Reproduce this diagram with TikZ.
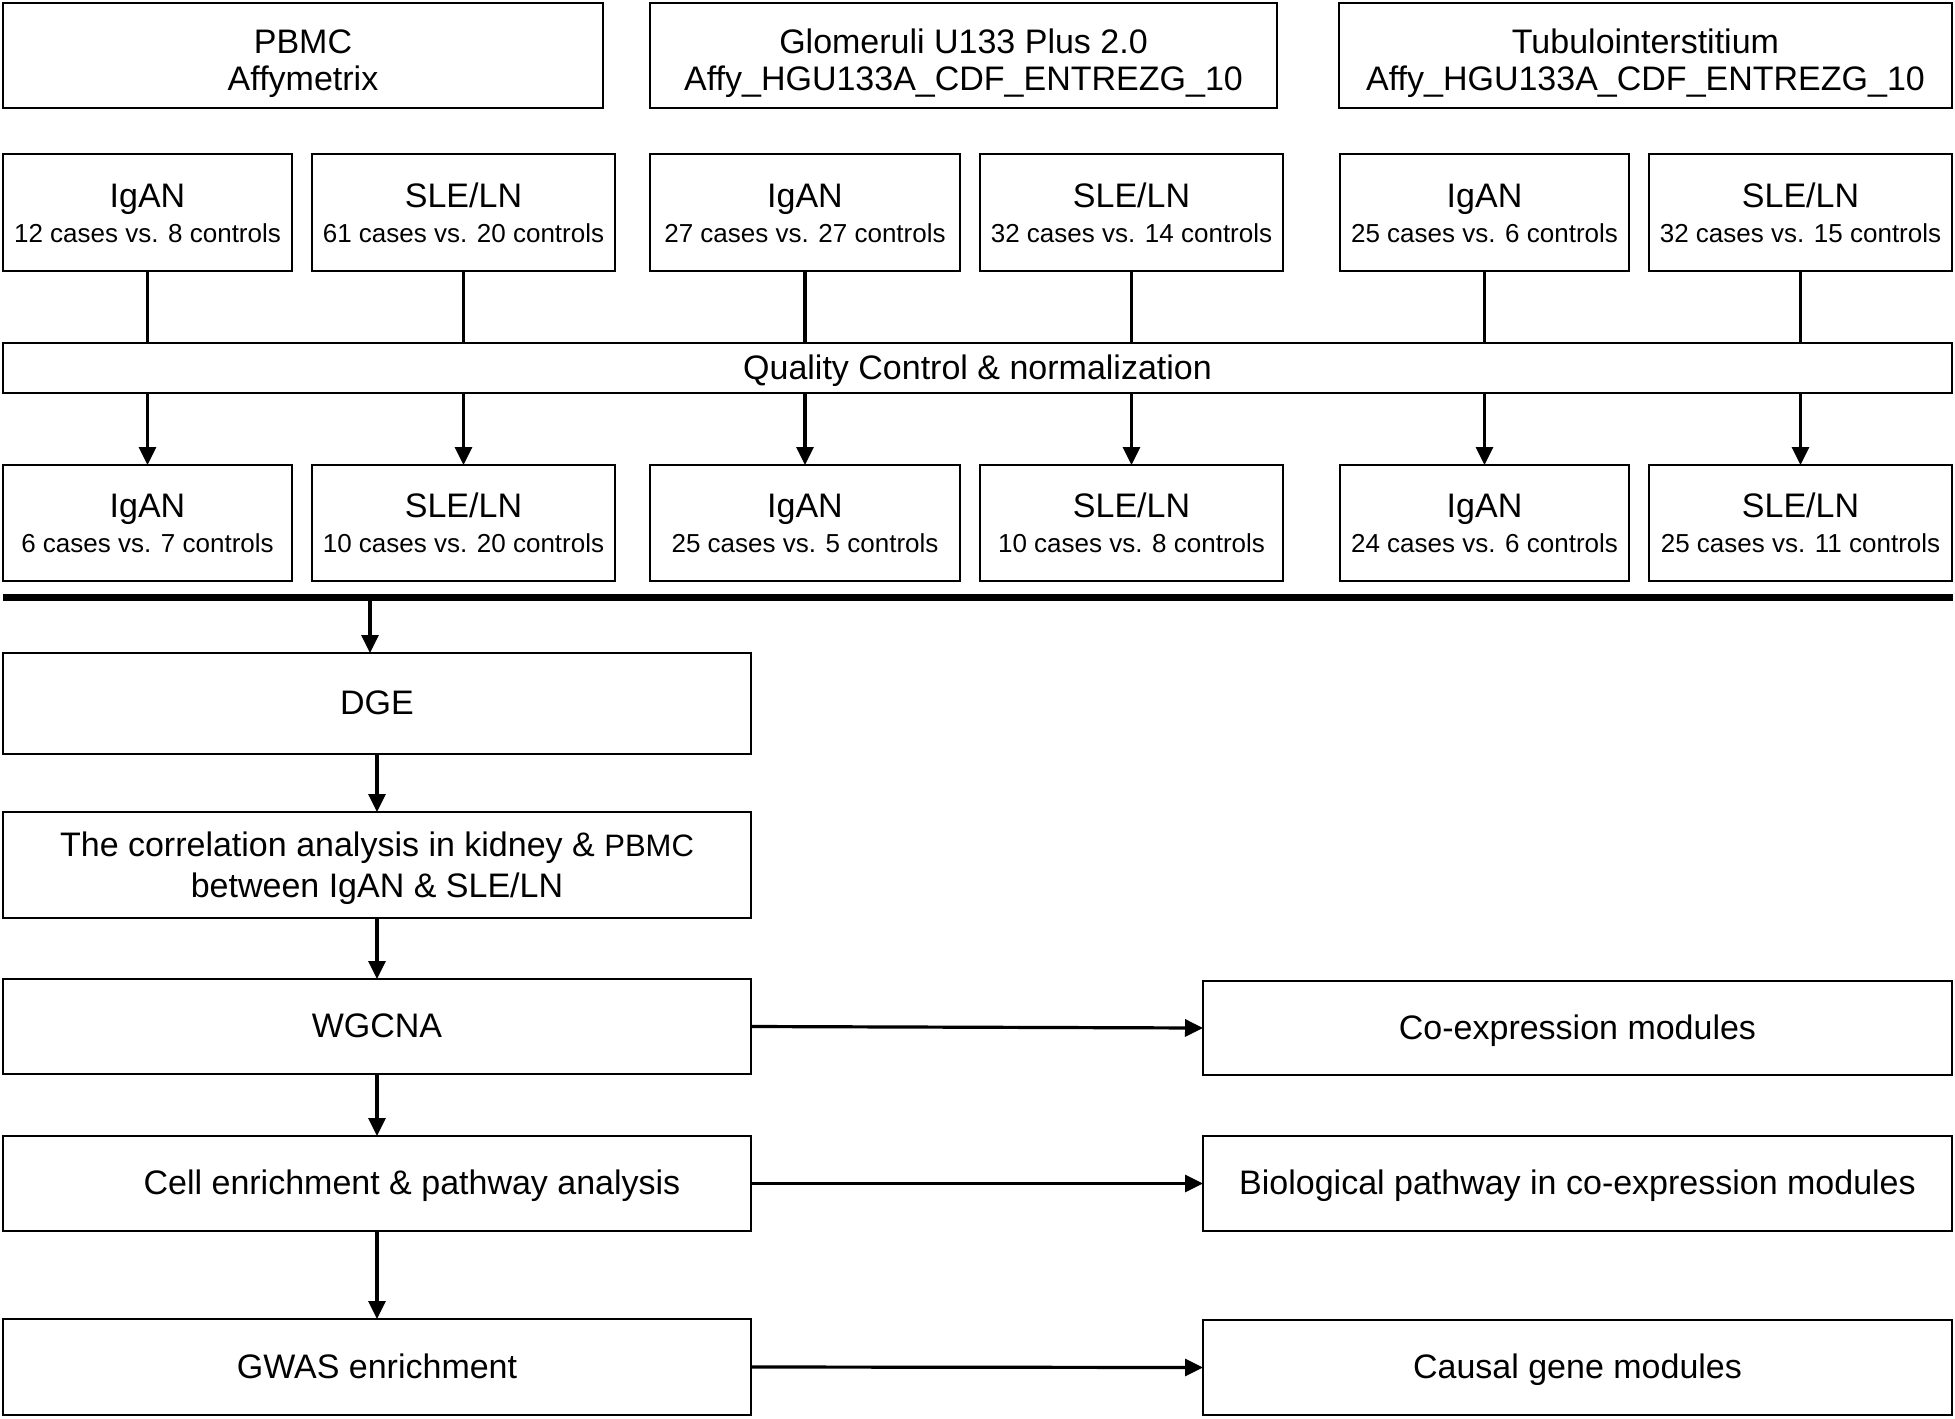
\documentclass[tikz,border=0pt]{standalone}
\usepackage{fontspec}
\setmainfont{Liberation Sans}
\usetikzlibrary{arrows.meta,positioning}

\tikzset{
  box/.style={draw, line width=1.2pt, inner sep=0pt, outer sep=0pt, align=center,
    text height=12pt, text depth=1pt, font=\fontsize{17}{18.7}\selectfont},
  platform/.style={box, minimum height=52.5pt, text height=36.2pt},
  cohort/.style={box, minimum height=58.5pt, text height=30.5pt},
  flow/.style={line width=1.6pt, -{Triangle[length=9pt,width=8.5pt]}},
  link/.style={line width=1.6pt},
}
\newcommand{\grp}[2]{#1\\[-1.2pt]{\fontsize{13}{13}\selectfont #2}}

\begin{document}
\begin{tikzpicture}[x=0.5pt,y=-0.5pt]
		\useasboundingbox (0,0) rectangle (1955,1419);
		
		% platforms
		\node[platform, minimum width=300pt] (pbmc) at (303,55.5) {PBMC\\Affymetrix};
		\node[platform, minimum width=313.5pt] (glom) at (963.5,55.5) {Glomeruli U133 Plus 2.0\\Affy\_HGU133A\_CDF\_ENTREZG\_10};
		\node[platform, minimum width=306.5pt] (tubu) at (1645.5,55.5) {Tubulointerstitium\\Affy\_HGU133A\_CDF\_ENTREZG\_10};
		
		% raw cohorts
		\node[cohort, minimum width=144.5pt] (rawpi) at (147.5,212.5) {\grp{IgAN}{12 cases vs. 8 controls}};
		\node[cohort, minimum width=151.5pt] (rawps) at (463.5,212.5) {\grp{SLE/LN}{61 cases vs. 20 controls}};
		\node[cohort, minimum width=155pt] (rawgi) at (805,212.5) {\grp{IgAN}{27 cases vs. 27 controls}};
		\node[cohort, minimum width=151.5pt] (rawgs) at (1131.5,212.5) {\grp{SLE/LN}{32 cases vs. 14 controls}};
		\node[cohort, minimum width=144.5pt] (rawti) at (1484.5,212.5) {\grp{IgAN}{25 cases vs. 6 controls}};
		\node[cohort, minimum width=151.5pt] (rawts) at (1800.5,212.5) {\grp{SLE/LN}{32 cases vs. 15 controls}};
		
		\node[box, minimum width=974.5pt, minimum height=25pt] (qc) at (977.5,368) {Quality Control \& normalization};
		
		% cohorts after QC
		\node[cohort, minimum width=144.5pt, minimum height=58pt] (cleanpi) at (147.5,523) {\grp{IgAN}{6 cases vs. 7 controls}};
		\node[cohort, minimum width=151.5pt, minimum height=58pt] (cleanps) at (463.5,523) {\grp{SLE/LN}{10 cases vs. 20 controls}};
		\node[cohort, minimum width=155pt, minimum height=58pt] (cleangi) at (805,523) {\grp{IgAN}{25 cases vs. 5 controls}};
		\node[cohort, minimum width=151.5pt, minimum height=58pt] (cleangs) at (1131.5,523) {\grp{SLE/LN}{10 cases vs. 8 controls}};
		\node[cohort, minimum width=144.5pt, minimum height=58pt] (cleanti) at (1484.5,523) {\grp{IgAN}{24 cases vs. 6 controls}};
		\node[cohort, minimum width=151.5pt, minimum height=58pt] (cleants) at (1800.5,523) {\grp{SLE/LN}{25 cases vs. 11 controls}};
		
		\draw[link] (rawpi.south) -- (rawpi.south |- qc.north);
		\draw[link] (rawps.south) -- (rawps.south |- qc.north);
		\draw[link] (rawgi.south) -- (rawgi.south |- qc.north);
		\draw[link] (rawgs.south) -- (rawgs.south |- qc.north);
		\draw[link] (rawti.south) -- (rawti.south |- qc.north);
		\draw[link] (rawts.south) -- (rawts.south |- qc.north);
		
		\draw[flow] (cleanpi.north |- qc.south) -- (cleanpi.north);
		\draw[flow] (cleanps.north |- qc.south) -- (cleanps.north);
		\draw[flow] (cleangi.north |- qc.south) -- (cleangi.north);
		\draw[flow] (cleangs.north |- qc.south) -- (cleangs.north);
		\draw[flow] (cleanti.north |- qc.south) -- (cleanti.north);
		\draw[flow] (cleants.north |- qc.south) -- (cleants.north);
		
		% merge bar
		\coordinate (barl) at (3,597);
		\coordinate (barr) at (1953,597);
		\coordinate (bartap) at (370,597);
		\draw[line width=3.5pt] (barl) -- (barr);
		
		% analysis steps
		\node[box, minimum width=374pt, minimum height=50.5pt] (dge) at (377,703.5) {DGE};
		\node[box, minimum width=374pt, minimum height=53pt, text height=33pt, font=\fontsize{17}{20.5}\selectfont] (corr) at (377,865) {The correlation analysis in kidney \& {\fontsize{15.5}{20.5}\selectfont PBMC}\\between IgAN \& SLE/LN};
		\node[box, minimum width=374pt, minimum height=47.5pt] (wgcna) at (377,1026.5) {WGCNA};
		\node[box, minimum width=374pt, minimum height=47.5pt] (cell) at (377,1183.5) {\hspace*{35pt}Cell enrichment \& pathway analysis};
		\node[box, minimum width=374pt, minimum height=48pt] (gwas) at (377,1367) {GWAS enrichment};
		
		% results
		\node[box, minimum width=374.5pt, minimum height=47pt] (coexp) at (1577.5,1028) {Co-expression modules};
		\node[box, minimum width=374.5pt, minimum height=47.5pt] (biopath) at (1577.5,1183.5) {Biological pathway in co-expression modules};
		\node[box, minimum width=374.5pt, minimum height=47.5pt] (causal) at (1577.5,1367.5) {Causal gene modules};
		
		\draw[flow] (bartap) -- (bartap |- dge.north);
		\draw[flow] (dge) -- (corr);
		\draw[flow] (corr) -- (wgcna);
		\draw[flow] (wgcna) -- (cell);
		\draw[flow] (cell) -- (gwas);
		
		\draw[flow] (wgcna.east) -- (coexp.west);
		\draw[flow] (cell.east) -- (biopath.west);
		\draw[flow] (gwas.east) -- (causal.west);
		
	\end{tikzpicture}
\end{document}
